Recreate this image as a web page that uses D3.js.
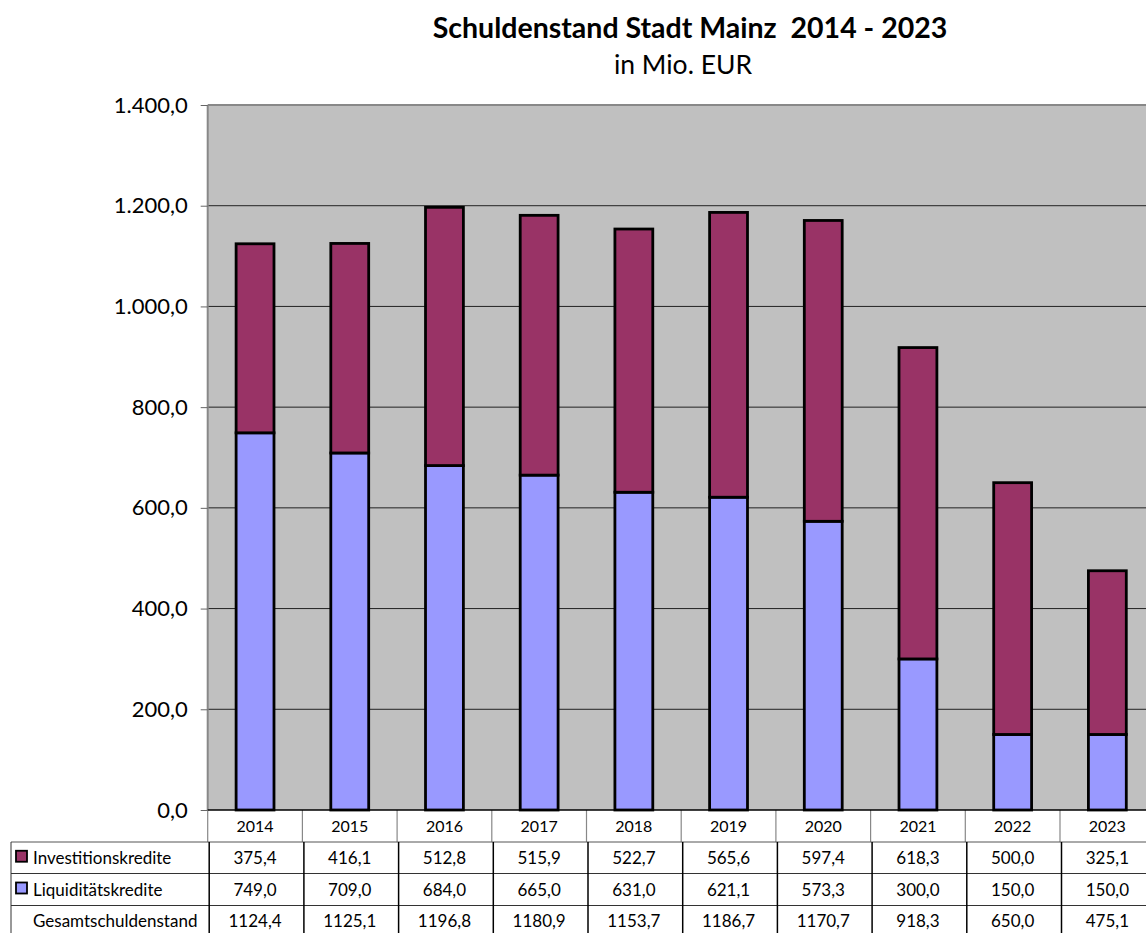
<!DOCTYPE html>
<html>
<head>
<meta charset="utf-8">
<script src="https://cdn.jsdelivr.net/npm/d3@7"></script>
<style>
  body { margin: 0; background: #fff; }
  svg { display: block; font-family: Lato, "Open Sans", sans-serif; }
</style>
</head>
<body>
<svg width="1146" height="933"></svg>
<script>
// data
const years = ["2014", "2015", "2016", "2017", "2018", "2019", "2020", "2021", "2022", "2023"];
const investitionskredite = [375.4, 416.1, 512.8, 515.9, 522.7, 565.6, 597.4, 618.3, 500.0, 325.1];
const liquiditaetskredite = [749.0, 709.0, 684.0, 665.0, 631.0, 621.1, 573.3, 300.0, 150.0, 150.0];
const gesamt = [1124.4, 1125.1, 1196.8, 1180.9, 1153.7, 1186.7, 1170.7, 918.3, 650.0, 475.1];
const yTicks = [0, 200, 400, 600, 800, 1000, 1200, 1400];

const seriesInfo = [
  { key: "liq", name: "Liquiditätskredite", color: "#9999FF" },
  { key: "inv", name: "Investitionskredite", color: "#993366" }
];

const rows = years.map((y, i) => ({ year: y, liq: liquiditaetskredite[i], inv: investitionskredite[i] }));

const svg = d3.select("svg");
const fmt = v => v.toFixed(1).replace(".", ",");
const fmtAxis = v => d3.format(",.1f")(v).replace(/,/g, "#").replace(".", ",").replace(/#/g, ".");

const left = 207.7, step = 94.7;
const x = d3.scaleBand().domain(years).range([left, left + step * years.length]).paddingInner(0.6).paddingOuter(0.3);
const y = d3.scaleLinear().domain([0, 1400]).range([810, 105]);

// plot area
svg.append("rect")
  .attr("x", left).attr("y", y(1400))
  .attr("width", step * years.length).attr("height", y(0) - y(1400))
  .attr("fill", "#C0C0C0");

// grid
svg.append("g").selectAll("line")
  .data(yTicks.filter(t => t > 0 && t < 1400))
  .join("line")
  .attr("x1", left).attr("x2", left + step * years.length)
  .attr("y1", d => y(d)).attr("y2", d => y(d))
  .attr("stroke", "#222").attr("stroke-width", 1);

// stacked bars
const stack = d3.stack().keys(["liq", "inv"])(rows);
svg.append("g").selectAll("g")
  .data(stack)
  .join("g")
  .attr("fill", (d, i) => seriesInfo[i].color)
  .selectAll("rect")
  .data(d => d)
  .join("rect")
  .attr("x", d => x(d.data.year))
  .attr("width", x.bandwidth())
  .attr("y", d => y(d[1]))
  .attr("height", d => y(d[0]) - y(d[1]))
  .attr("stroke", "#000").attr("stroke-width", 2.8);

// borders
svg.append("line").attr("x1", left).attr("x2", 1146).attr("y1", y(1400)).attr("y2", y(1400))
  .attr("stroke", "#888").attr("stroke-width", 2);
svg.append("line").attr("x1", left).attr("x2", left).attr("y1", y(1400)).attr("y2", y(0))
  .attr("stroke", "#888").attr("stroke-width", 2);

// y axis
const yAxis = svg.append("g").attr("transform", `translate(${left},0)`)
  .call(d3.axisLeft(y).tickValues(yTicks).tickSize(7).tickPadding(13).tickFormat(fmtAxis));
yAxis.select(".domain").remove();
yAxis.selectAll(".tick line").attr("stroke", "#666");
yAxis.selectAll("text").attr("font-size", 22).attr("fill", "#000").attr("font-family", "Lato, sans-serif");

// title
svg.append("text").attr("x", 690).attr("y", 38).attr("text-anchor", "middle")
  .style("white-space", "pre")
  .attr("font-size", 28.5).attr("font-weight", "bold").text("Schuldenstand Stadt Mainz  2014 - 2023");
svg.append("text").attr("x", 683).attr("y", 74).attr("text-anchor", "middle")
  .attr("font-size", 26.5).text("in Mio. EUR");

// data table
const tableLeft = 11;
const rowY = [810, 842, 873.5, 905.5, 937];
const tbl = svg.append("g").attr("font-size", 17);

// header row
tbl.selectAll(".hdr")
  .data(years)
  .join("text")
  .attr("x", d => x(d) + x.bandwidth() / 2)
  .attr("y", (rowY[0] + rowY[1]) / 2 + 6)
  .attr("text-anchor", "middle")
  .attr("font-size", 16)
  .text(d => d);

tbl.selectAll(".hv")
  .data(d3.range(years.length + 1))
  .join("line")
  .attr("x1", i => left + i * step).attr("x2", i => left + i * step)
  .attr("y1", rowY[0]).attr("y2", rowY[1])
  .attr("stroke", "#888").attr("stroke-width", 1.2);

const bodyRows = [
  { name: "Investitionskredite", values: investitionskredite, color: "#993366" },
  { name: "Liquiditätskredite", values: liquiditaetskredite, color: "#9999FF" },
  { name: "Gesamtschuldenstand", values: gesamt, color: null }
];

// horizontal lines
tbl.append("line").attr("x1", left).attr("x2", 1146).attr("y1", rowY[0]).attr("y2", rowY[0])
  .attr("stroke", "#000").attr("stroke-width", 1.5);
rowY.slice(1, 4).forEach((ry, i) => {
  tbl.append("line").attr("x1", tableLeft).attr("x2", 1146).attr("y1", ry).attr("y2", ry)
    .attr("stroke", i === 0 ? "#555" : "#333").attr("stroke-width", 1);
});
// vertical lines body
tbl.selectAll(".bv")
  .data(d3.range(years.length + 1))
  .join("line")
  .attr("x1", i => left + 1.5 + i * step).attr("x2", i => left + 1.5 + i * step)
  .attr("y1", rowY[1]).attr("y2", 933)
  .attr("stroke", "#000").attr("stroke-width", 1.5);
tbl.append("line").attr("x1", tableLeft).attr("x2", tableLeft).attr("y1", rowY[1]).attr("y2", 933)
  .attr("stroke", "#333").attr("stroke-width", 1);

bodyRows.forEach((r, ri) => {
  const cy = (rowY[ri + 1] + rowY[ri + 2]) / 2 + 6;
  if (r.color) {
    tbl.append("rect").attr("x", 16).attr("y", cy - 13).attr("width", 11).attr("height", 11)
      .attr("fill", r.color).attr("stroke", "#000").attr("stroke-width", 1.8);
  }
  tbl.append("text").attr("x", 33).attr("y", cy).text(r.name);
  tbl.selectAll(null)
    .data(r.values)
    .join("text")
    .attr("x", (d, i) => x(years[i]) + x.bandwidth() / 2)
    .attr("y", cy)
    .attr("text-anchor", "middle")
    .text(d => fmt(d));
});
</script>
</body>
</html>
